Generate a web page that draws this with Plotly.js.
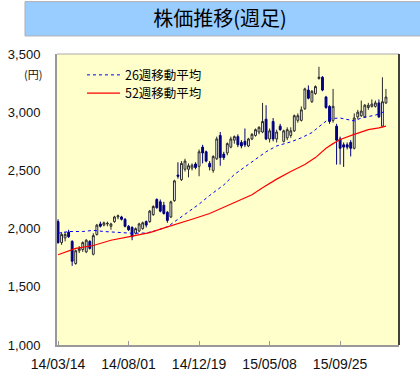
<!DOCTYPE html>
<html>
<head>
<meta charset="utf-8">
<script src="https://cdn.plot.ly/plotly-3.0.1.min.js"></script>
<style>
html,body{margin:0;padding:0;background:#fff;}
#chart{width:420px;height:377px;}
</style>
</head>
<body>
<div id="chart"></div>
<script>
// ---- Data (weekly candles) ----
const startDate = '2014-03-14';
const openP  = [2060,1880,1920,1970,1890,1700,1810,1820,1800,1890,1780,1950,2040,2030,2040,2020,2060,2100,2100,2080,2020,2010,1960,1980,2000,2060,2060,2120,2250,2230,2200,2140,2100,2240,2460,2420,2510,2510,2520,2555,2535,2700,2660,2560,2500,2600,2800,2640,2650,2700,2760,2790,2740,2750,2710,2770,2800,2830,2830,2940,2770,2920,2770,2880,2750,2780,2800,2840,2930,2930,3030,3190,3090,3160,3290,3300,3130,3050,2930,2880,2770,2720,2720,2740,2690,2960,2970,2960,3040,3050,3050,3080,2880,3080];
const highP  = [2080,1970,1970,1990,1900,1820,1850,1890,1910,1900,1960,2040,2060,2060,2060,2050,2110,2120,2110,2090,2030,2020,2010,2050,2060,2070,2160,2200,2260,2250,2230,2150,2240,2420,2570,2580,2600,2560,2560,2570,2680,2720,2670,2580,2630,2790,2830,2660,2740,2790,2800,2810,2760,2860,2780,2820,2860,2880,3080,3060,2860,2950,2850,2900,2850,2870,2870,2980,2990,3050,3210,3230,3190,3230,3390,3310,3140,3060,3200,2900,2790,2740,2740,2760,2990,3020,3100,3070,3080,3110,3100,3110,3300,3200];
const lowP   = [1870,1860,1890,1920,1680,1690,1790,1800,1790,1820,1770,1940,2010,2020,2020,1990,2050,2080,2070,2010,1980,1900,1950,1970,1990,2010,2050,2110,2170,2140,2120,2050,2090,2230,2430,2410,2490,2440,2500,2510,2450,2560,2570,2500,2480,2590,2540,2590,2630,2690,2730,2700,2690,2700,2700,2760,2790,2810,2820,2760,2740,2750,2740,2840,2740,2760,2780,2830,2910,2920,3020,3110,3080,3150,3280,3180,3030,2900,2910,2550,2550,2530,2680,2620,2680,2940,2960,2950,3020,3040,3040,2950,2870,3070];
const closeP = [1880,1950,1950,1930,1720,1810,1830,1880,1900,1830,1940,2030,2020,2050,2045,2040,2100,2110,2080,2020,1990,1930,2000,2040,2050,2030,2150,2190,2180,2150,2130,2070,2230,2410,2450,2560,2580,2540,2545,2525,2660,2650,2580,2530,2620,2770,2610,2610,2730,2770,2790,2720,2710,2720,2770,2810,2850,2870,2920,2770,2840,2770,2830,2850,2840,2850,2840,2970,2970,3020,3200,3120,3180,3220,3300,3190,3040,2920,3050,2760,2690,2700,2700,2690,2950,3000,3010,3060,3060,3070,3080,2960,3090,3130];

// 26-week moving average (blue dotted), sampled at week index
const ma26Weeks = [0,3,7,10,13,17,21,25,28,31,34,37,40,43,47,50,53,56,59,62,66,69,72,75,77,80,82,84,86,88,90,93];
const ma26Vals  = [1960,1975,1975,1985,1975,1965,1960,1962,1985,2015,2080,2150,2210,2285,2375,2465,2530,2590,2660,2710,2745,2780,2825,2900,2945,2950,2940,2925,2950,2960,2975,3010];
// 52-week moving average (red solid)
const ma52Weeks = [0,5,10,15,21,26,31,34,38,43,46,49,52,55,58,62,66,70,73,76,78,80,84,88,91,93];
const ma52Vals  = [1775,1830,1855,1900,1935,1965,2015,2040,2080,2130,2170,2210,2250,2290,2350,2425,2490,2550,2610,2690,2730,2765,2810,2850,2865,2880];

const tickDates  = ['2014-03-14','2014-08-01','2014-12-19','2015-05-08','2015-09-25'];
const yTicks = [1000,1500,2000,2500,3000,3500];
const titleText = '株価推移(週足)';
const unitText = '(円)';
const ma26Name = '26週移動平均';
const ma52Name = '52週移動平均';

// ---- helpers ----
const DAY = 86400000;
const t0 = Date.parse(startDate + 'T00:00:00Z');
function weekToDate(w){ return new Date(t0 + w*7*DAY).toISOString().slice(0,19).replace('T',' '); }
const candleDates = openP.map((_, i) => weekToDate(i));

const cjk = '"Noto Sans CJK JP", "Noto Sans", sans-serif';
const latin = '"Liberation Sans", Arial, sans-serif';

const traces = [
  {
    type: 'candlestick',
    x: candleDates, open: openP, high: highP, low: lowP, close: closeP,
    increasing: {line: {color: '#2a2a2a', width: 1}, fillcolor: '#ffffff'},
    decreasing: {line: {color: '#000080', width: 1}, fillcolor: '#000080'},
    whiskerwidth: 0,
    showlegend: false,
    hoverinfo: 'skip'
  },
  {
    type: 'scatter', mode: 'lines', name: ma26Name, legend: 'legend',
    x: ma26Weeks.map(weekToDate), y: ma26Vals,
    line: {color: '#0000ff', width: 1, dash: 'dot'}
  },
  {
    type: 'scatter', mode: 'lines', name: ma52Name, legend: 'legend2',
    x: ma52Weeks.map(weekToDate), y: ma52Vals,
    line: {color: '#ff0000', width: 1.2}
  }
];

const legendBase = {
  xanchor: 'left', yanchor: 'middle',
  bgcolor: 'rgba(0,0,0,0)', borderwidth: 0,
  font: {family: cjk, size: 12.5, color: '#000000'},
  itemwidth: 33
};

const layout = {
  width: 420, height: 377,
  margin: {l: 57, r: 21, t: 54, b: 32, pad: 0},
  paper_bgcolor: '#ffffff',
  plot_bgcolor: '#ffffcc',
  boxgap: 0.25,
  title: {
    text: titleText,
    font: {family: cjk, size: 20, color: '#000000'},
    x: 0.477, xanchor: 'center', xref: 'paper',
    y: 1 - 19/377, yanchor: 'middle', yref: 'container'
  },
  showlegend: true,
  legend:  Object.assign({}, legendBase, {x: 0.073, y: 0.927}),
  legend2: Object.assign({}, legendBase, {x: 0.073, y: 0.864}),
  xaxis: {
    type: 'date',
    range: [weekToDate(-0.3), weekToDate(96.7)],
    rangeslider: {visible: false},
    tickvals: tickDates,
    tickformat: '%y/%m/%d',
    tickfont: {family: latin, size: 14, color: '#111111'},
    ticks: 'inside', ticklen: 4, tickcolor: '#999999', tickwidth: 1,
    ticklabelstandoff: 5,
    showgrid: false, zeroline: false,
    showline: true, linecolor: '#999999', linewidth: 2
  },
  yaxis: {
    range: [1000, 3500],
    tickvals: yTicks,
    tickformat: ',d',
    tickfont: {family: latin, size: 13, color: '#111111'},
    ticks: '', ticklabelstandoff: 12,
    showgrid: false, zeroline: false,
    showline: true, linecolor: '#999999', linewidth: 2
  },
  shapes: [
    {type: 'rect', xref: 'paper', yref: 'paper', x0: -0.0936, x1: 1.07, y0: 1.062, y1: 1.18,
     fillcolor: '#99ccff', line: {color: '#b0b0b0', width: 1}, layer: 'below'},
    {type: 'line', xref: 'paper', yref: 'paper', x0: 0, x1: 1, y0: 1, y1: 1,
     line: {color: '#aaaaaa', width: 1}},
    {type: 'line', xref: 'paper', yref: 'paper', x0: 1, x1: 1, y0: 0, y1: 1,
     line: {color: '#000000', width: 1.5}}
  ],
  annotations: [
    {text: unitText, xref: 'paper', yref: 'paper', x: -0.07, y: 0.93,
     xanchor: 'center', yanchor: 'middle', showarrow: false,
     font: {family: cjk, size: 11, color: '#111111'}}
  ]
};

Plotly.newPlot('chart', traces, layout, {displayModeBar: false, staticPlot: true});
</script>
</body>
</html>
